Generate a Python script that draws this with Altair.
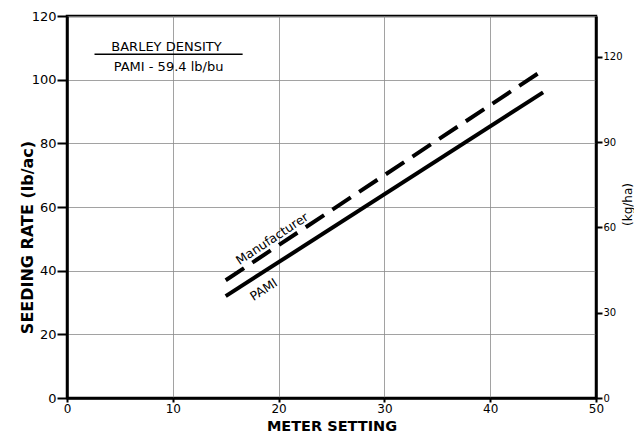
import altair as alt
import pandas as pd

# ---- data ----
meter = [15, 45]
pami_rate = [32, 96]
manuf_rate = [37, 103]

x_ticks = [0, 10, 20, 30, 40, 50]
y_ticks = [0, 20, 40, 60, 80, 100, 120]
kg_ticks = [0, 30, 60, 90, 120]
kg_domain = [0, 134.4]  # 120 lb/ac * 1.12

# annotation texts and their anchor values (data units)
note_title = ["BARLEY DENSITY"]
note_title_x = [9.4]
note_title_y = [110.4]
note_sub = ["PAMI - 59.4 lb/bu"]
note_sub_x = [9.6]
note_sub_y = [104.0]
note_rule_x = [2.6]
note_rule_x2 = [16.6]
note_rule_y = [108.0]

lab_names = ["Manufacturer", "PAMI"]
lab_x = [19.4, 18.6]
lab_y = [50.0, 34.0]

FONT = "DejaVu Sans"

lines_df = pd.DataFrame({
    "meter": meter * 2,
    "rate": pami_rate + manuf_rate,
    "series": ["PAMI"] * 2 + ["Manufacturer"] * 2,
})

xscale = alt.Scale(domain=[0, 50], nice=False, zero=False)
yscale = alt.Scale(domain=[0, 120], nice=False, zero=False)

x_axis = alt.Axis(values=x_ticks, title="METER SETTING", grid=True,
                  tickSize=4, labelPadding=1, labelFontSize=12,
                  titleY=28, titleBaseline="middle",
                  titleFontSize=14.5, labelFlush=False)
y_axis = alt.Axis(values=y_ticks, title="SEEDING RATE (lb/ac)", grid=True,
                  tickSize=10, labelPadding=1, titleX=-40, titleY=221,
                  titleBaseline="middle", titleAngle=270, labelFlush=False)

base = alt.Chart(lines_df)

pami = base.transform_filter(alt.datum.series == "PAMI").mark_line(
    color="black", strokeWidth=4, strokeCap="butt"
).encode(
    x=alt.X("meter:Q", scale=xscale, axis=x_axis),
    y=alt.Y("rate:Q", scale=yscale, axis=y_axis),
)

manuf = base.transform_filter(alt.datum.series == "Manufacturer").mark_line(
    color="black", strokeWidth=4, strokeDash=[22, 10], strokeCap="butt"
).encode(
    x=alt.X("meter:Q", scale=xscale),
    y=alt.Y("rate:Q", scale=yscale),
)

lab_df = pd.DataFrame({"name": lab_names, "x": lab_x, "y": lab_y})
manuf_lab = alt.Chart(lab_df).transform_filter(alt.datum.name == "Manufacturer").mark_text(
    font=FONT, fontSize=12.5, angle=326.5, color="black", fontWeight=500
).encode(x=alt.X("x:Q", scale=xscale), y=alt.Y("y:Q", scale=yscale), text="name:N")
pami_lab = alt.Chart(lab_df).transform_filter(alt.datum.name == "PAMI").mark_text(
    font=FONT, fontSize=12.5, angle=327.3, color="black", fontWeight=500
).encode(x=alt.X("x:Q", scale=xscale), y=alt.Y("y:Q", scale=yscale), text="name:N")

t1 = alt.Chart(pd.DataFrame({"t": note_title, "x": note_title_x, "y": note_title_y})).mark_text(
    font=FONT, fontSize=13, color="black"
).encode(x=alt.X("x:Q", scale=xscale), y=alt.Y("y:Q", scale=yscale), text="t:N")
t2 = alt.Chart(pd.DataFrame({"t": note_sub, "x": note_sub_x, "y": note_sub_y})).mark_text(
    font=FONT, fontSize=13, color="black"
).encode(x=alt.X("x:Q", scale=xscale), y=alt.Y("y:Q", scale=yscale), text="t:N")
r1 = alt.Chart(pd.DataFrame({"x": note_rule_x, "x2": note_rule_x2, "y": note_rule_y})).mark_rule(
    color="black", strokeWidth=1.5
).encode(x=alt.X("x:Q", scale=xscale), x2="x2:Q", y=alt.Y("y:Q", scale=yscale))

left = alt.layer(pami, manuf, manuf_lab, pami_lab, t1, t2, r1)

right = alt.Chart(pd.DataFrame({"kg": kg_domain, "m": [0, 50]})).mark_point(opacity=0).encode(
    x=alt.X("m:Q", scale=xscale),
    y=alt.Y("kg:Q", scale=alt.Scale(domain=kg_domain, nice=False, zero=False),
            axis=alt.Axis(orient="right", values=kg_ticks, title="(kg/ha)", grid=False,
                          tickSize=6, labelPadding=1, labelFontSize=10,
                          titleAngle=270, titleX=31, titleY=188, titleBaseline="middle",
                          titleFontWeight="normal", titleFontSize=12,
                          labelFlush=False)),
)

chart = alt.layer(left, right).resolve_scale(y="independent").properties(
    width=529, height=382,
    autosize=alt.AutoSizeParams(type="none"),
    padding={"left": 59, "top": 8, "right": 38, "bottom": 35},
    background="white",
).configure_view(
    stroke="black", strokeWidth=2.5
).configure_axis(
    domainColor="black", domainWidth=2.5,
    tickColor="black", tickWidth=2,
    gridColor="#8a8a8a", gridWidth=0.8,
    labelFont=FONT, labelFontSize=13, labelColor="black",
    titleFont=FONT, titleFontSize=16, titleFontWeight="bold", titleColor="black",
)

chart.save("out.html", embed_options={"renderer": "svg", "actions": False})
